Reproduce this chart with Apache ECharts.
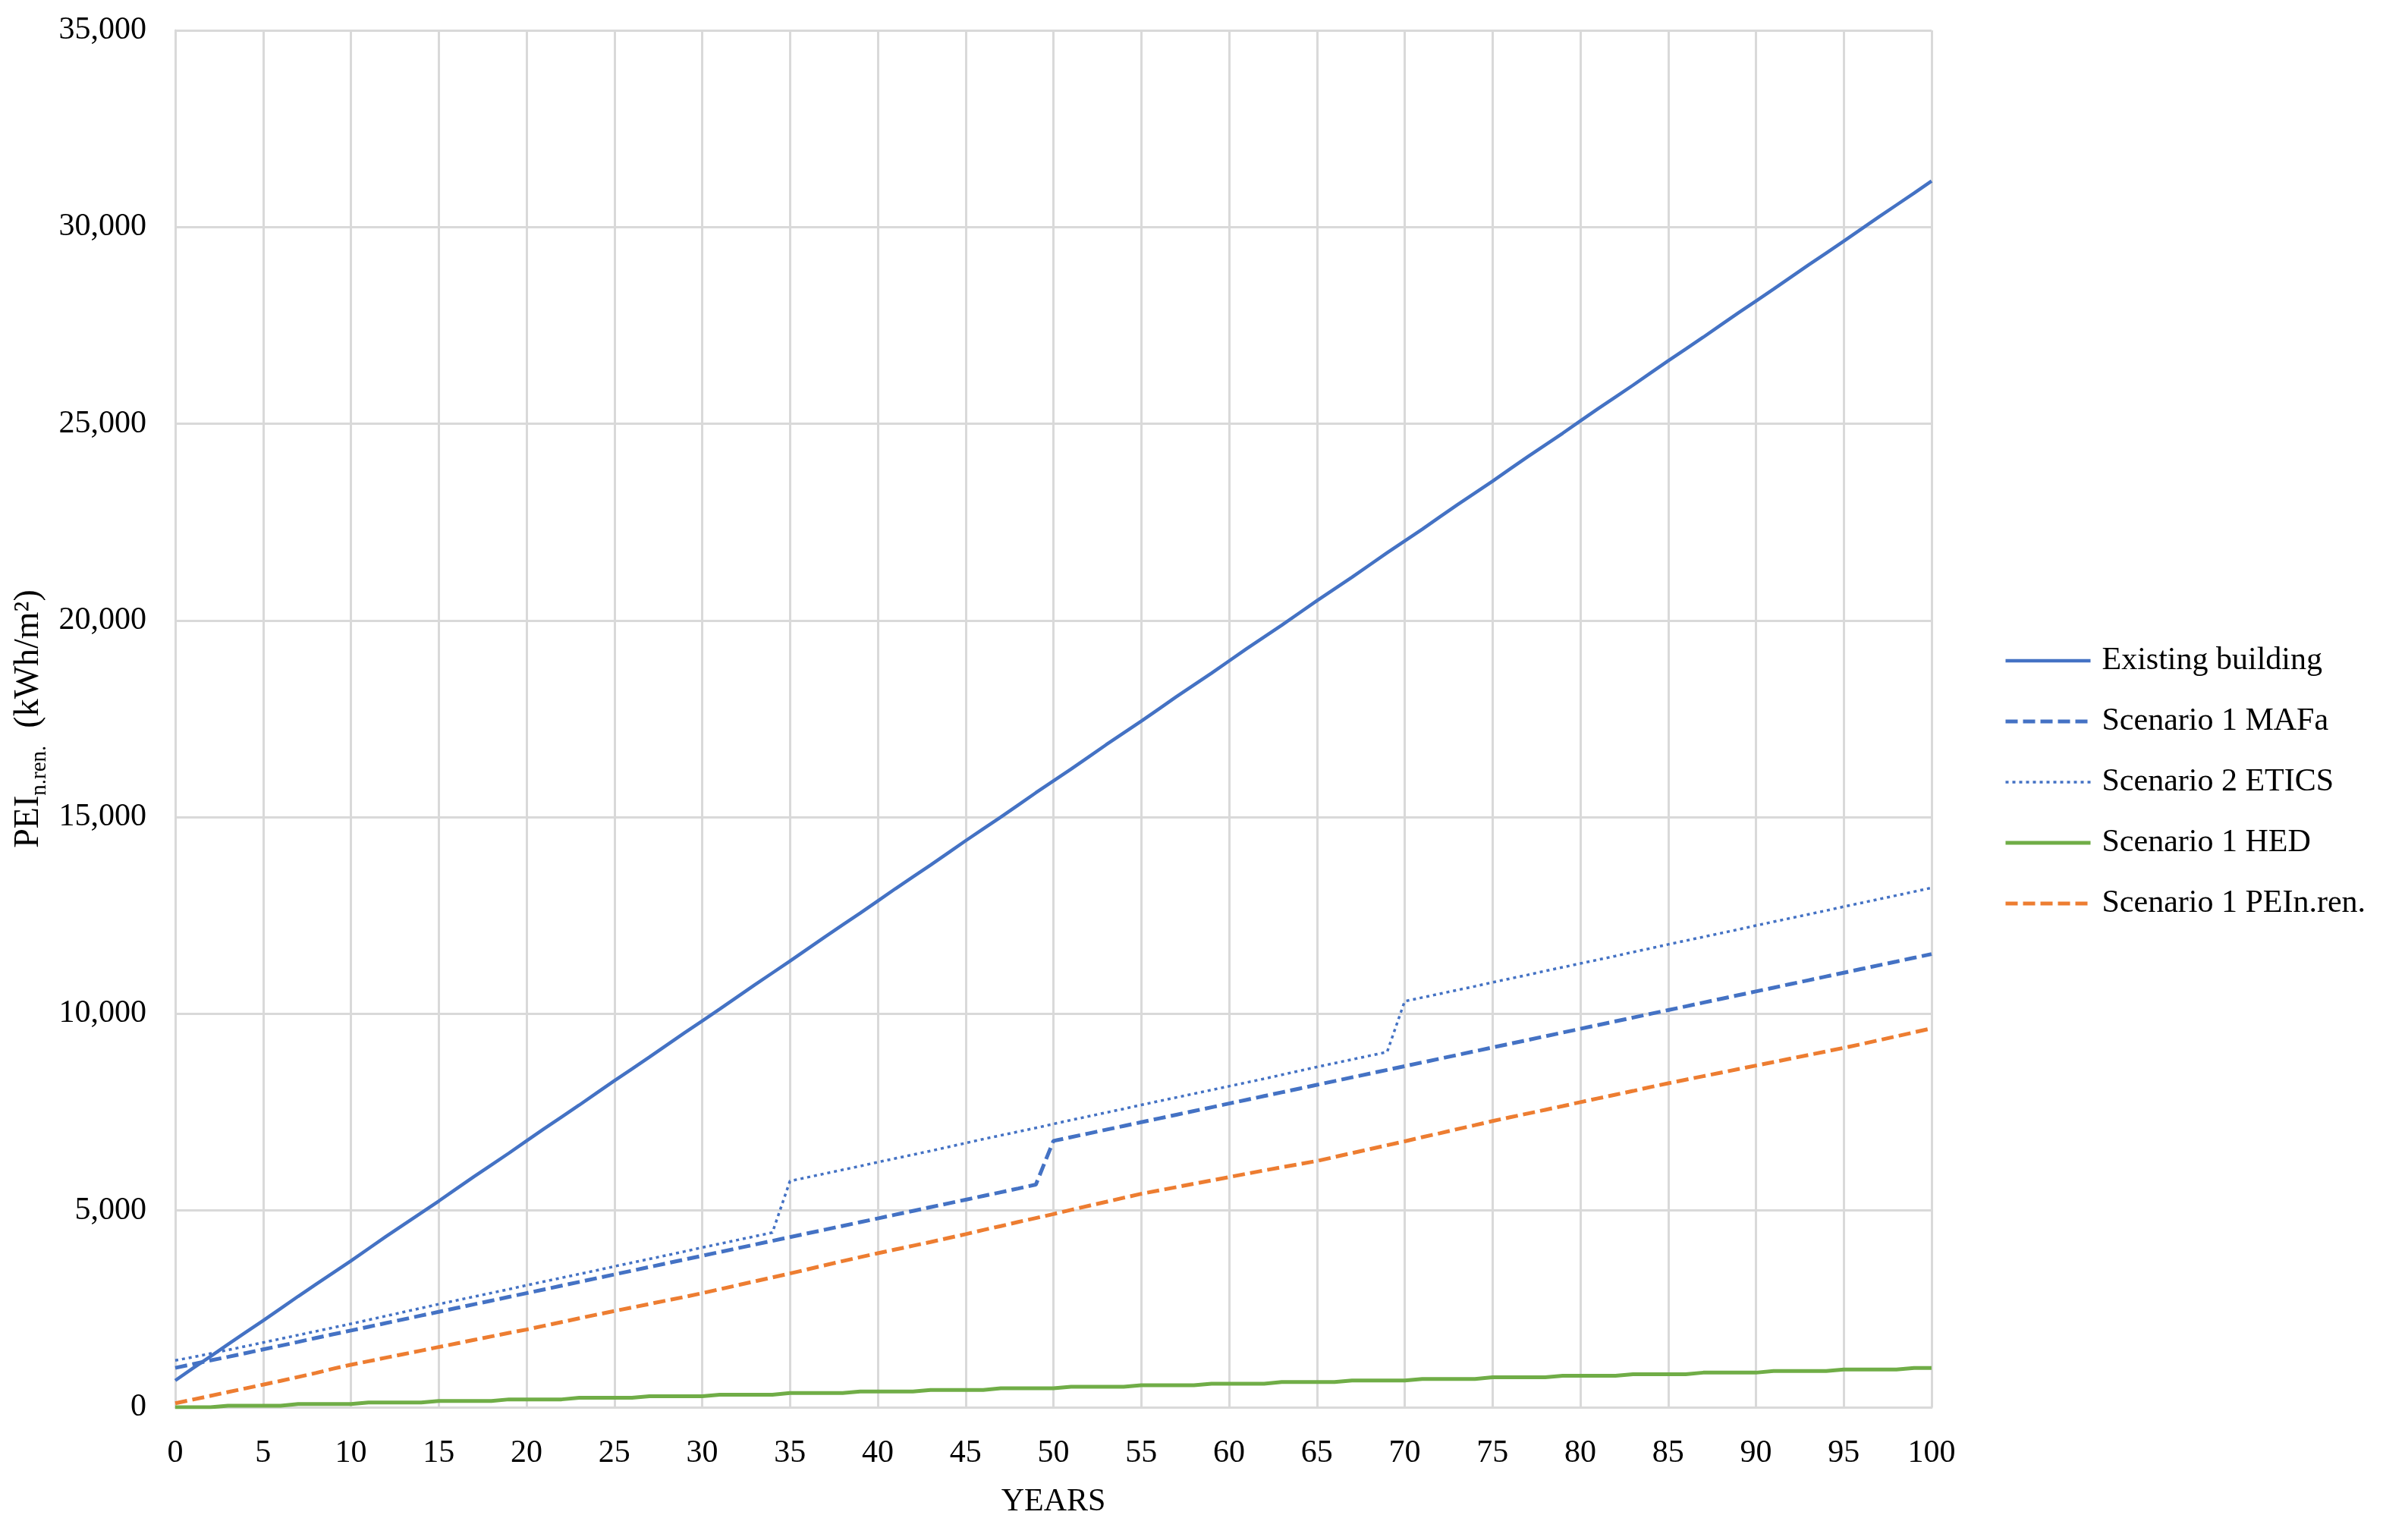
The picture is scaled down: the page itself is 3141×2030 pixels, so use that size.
<!DOCTYPE html>
<html>
<head>
<meta charset="utf-8">
<script src="https://cdn.jsdelivr.net/npm/echarts@6/dist/echarts.min.js"></script>
<style>
  html, body { margin: 0; padding: 0; background: #fff; }
  #chart { width: 3141px; height: 2030px; }
</style>
</head>
<body>
<div id="chart"></div>
<script>
// years 0..100 on the x axis
const years = Array.from({ length: 101 }, (_, i) => i);

const seriesNames = ['Existing building', 'Scenario 1 MAFa', 'Scenario 2 ETICS', 'Scenario 1 HED', 'Scenario 1 PEIn.ren.'];

const existing = [
  680, 990, 1290, 1600, 1900, 2200, 2510, 2820, 3120, 3420,
  3720, 4030, 4340, 4640, 4940, 5240, 5550, 5860, 6160, 6460,
  6770, 7080, 7380, 7680, 7990, 8300, 8600, 8900, 9210, 9520,
  9820, 10120, 10430, 10740, 11040, 11340, 11650, 11960, 12260, 12560,
  12870, 13180, 13480, 13780, 14090, 14400, 14700, 15000, 15310, 15620,
  15920, 16220, 16530, 16840, 17140, 17440, 17750, 18060, 18360, 18660,
  18970, 19280, 19580, 19880, 20190, 20500, 20800, 21100, 21410, 21720,
  22020, 22320, 22630, 22940, 23240, 23540, 23850, 24160, 24460, 24760,
  25070, 25380, 25680, 25980, 26290, 26600, 26900, 27200, 27510, 27820,
  28120, 28420, 28730, 29040, 29340, 29640, 29950, 30260, 30560, 30860,
  31170
];

const mafa = [
  1000, 1095, 1190, 1280, 1375, 1470, 1565, 1660, 1760, 1855,
  1950, 2045, 2140, 2235, 2330, 2425, 2520, 2615, 2710, 2805,
  2900, 2995, 3090, 3185, 3280, 3375, 3470, 3565, 3660, 3755,
  3850, 3945, 4040, 4135, 4230, 4325, 4420, 4515, 4610, 4705,
  4800, 4895, 4990, 5085, 5180, 5275, 5370, 5465, 5560, 5660,
  6770, 6865, 6960, 7055, 7150, 7245, 7340, 7435, 7530, 7625,
  7720, 7815, 7910, 8005, 8100, 8195, 8290, 8385, 8480, 8575,
  8670, 8765, 8860, 8955, 9050, 9145, 9240, 9335, 9430, 9525,
  9620, 9715, 9810, 9905, 10000, 10095, 10190, 10285, 10380, 10475,
  10570, 10665, 10760, 10855, 10950, 11045, 11140, 11235, 11330, 11425,
  11520
];

const etics = [
  1190, 1275, 1365, 1455, 1550, 1645, 1740, 1835, 1930, 2025,
  2120, 2220, 2320, 2420, 2520, 2620, 2715, 2810, 2905, 3000,
  3100, 3195, 3290, 3385, 3480, 3580, 3675, 3770, 3865, 3960,
  4060, 4155, 4250, 4345, 4440, 5750, 5845, 5940, 6035, 6130,
  6230, 6325, 6420, 6515, 6615, 6715, 6815, 6910, 7005, 7100,
  7200, 7300, 7395, 7490, 7585, 7685, 7780, 7875, 7970, 8065,
  8160, 8255, 8350, 8450, 8550, 8650, 8745, 8840, 8935, 9030,
  10320, 10415, 10510, 10605, 10700, 10800, 10895, 10990, 11090, 11185,
  11280, 11375, 11470, 11570, 11665, 11765, 11860, 11955, 12050, 12145,
  12245, 12340, 12435, 12530, 12625, 12725, 12820, 12915, 13010, 13105,
  13205
];

const hed = [
  0, 0, 0, 40, 40, 40, 40, 80, 80, 80,
  80, 120, 120, 120, 120, 160, 160, 160, 160, 200,
  200, 200, 200, 240, 240, 240, 240, 280, 280, 280,
  280, 320, 320, 320, 320, 360, 360, 360, 360, 400,
  400, 400, 400, 440, 440, 440, 440, 480, 480, 480,
  480, 520, 520, 520, 520, 560, 560, 560, 560, 600,
  600, 600, 600, 640, 640, 640, 640, 680, 680, 680,
  680, 720, 720, 720, 720, 760, 760, 760, 760, 800,
  800, 800, 800, 840, 840, 840, 840, 880, 880, 880,
  880, 920, 920, 920, 920, 960, 960, 960, 960, 1000,
  1000
];

const peiNren = [
  100, 195, 290, 385, 480, 575, 670, 770, 870, 980,
  1080, 1170, 1260, 1350, 1440, 1530, 1620, 1710, 1800, 1890,
  1975, 2070, 2165, 2260, 2355, 2445, 2535, 2625, 2715, 2805,
  2900, 3000, 3100, 3200, 3300, 3400, 3505, 3610, 3715, 3815,
  3915, 4010, 4105, 4200, 4300, 4400, 4505, 4605, 4710, 4810,
  4910, 5015, 5120, 5220, 5325, 5425, 5510, 5595, 5680, 5765,
  5850, 5935, 6020, 6100, 6180, 6260, 6360, 6460, 6560, 6660,
  6760, 6865, 6965, 7070, 7170, 7275, 7370, 7465, 7560, 7655,
  7755, 7850, 7945, 8040, 8140, 8235, 8325, 8415, 8505, 8595,
  8685, 8775, 8865, 8955, 9045, 9135, 9230, 9330, 9430, 9530,
  9630
];

const BLUE = '#4472C4';
const ORANGE = '#ED7D31';
const GREEN = '#70AD47';
const GRID = '#d9d9d9';
const FONT = '"Liberation Serif", "DejaVu Serif", serif';

const styles = [
  { color: BLUE, width: 4.5, type: 'solid' },
  { color: BLUE, width: 5, type: [16, 7] },
  { color: BLUE, width: 3.5, type: [4, 5] },
  { color: GREEN, width: 5, type: 'solid' },
  { color: ORANGE, width: 5, type: [16, 7] }
];
const values = [existing, mafa, etics, hed, peiNren];

const pairs = vals => years.map((y, i) => [y, vals[i]]);

const chart = echarts.init(document.getElementById('chart'));

chart.setOption({
  backgroundColor: '#ffffff',
  animation: false,
  textStyle: { fontFamily: FONT, color: '#000' },
  grid: { left: 231, right: 595, top: 40, bottom: 175 },
  legend: {
    orient: 'vertical',
    left: 2636,
    top: 845,
    itemWidth: 112,
    itemHeight: 40,
    itemGap: 38,
    textStyle: { fontFamily: FONT, fontSize: 42, color: '#000', padding: [0, 0, 0, 10] },
    data: seriesNames.map((name, i) => ({
      name: name,
      itemStyle: { opacity: 0 },
      lineStyle: { color: styles[i].color, width: styles[i].width, type: styles[i].type }
    }))
  },
  xAxis: {
    type: 'value',
    min: 0,
    max: 100,
    interval: 5,
    name: 'YEARS',
    nameLocation: 'middle',
    nameGap: 104,
    nameTextStyle: { fontFamily: FONT, fontSize: 42, color: '#000' },
    axisLine: { show: true, lineStyle: { color: GRID, width: 3 } },
    axisTick: { show: false },
    axisLabel: { fontFamily: FONT, fontSize: 42, color: '#000', margin: 40 },
    splitLine: { show: true, lineStyle: { color: GRID, width: 3 } }
  },
  yAxis: {
    type: 'value',
    min: 0,
    max: 35000,
    interval: 5000,
    name: '{b|PEI}{s|n.ren.}{b|  (kWh/m²)}',
    nameLocation: 'middle',
    nameGap: 148,
    nameRotate: 90,
    nameTextStyle: {
      fontFamily: FONT,
      color: '#000',
      rich: {
        b: { fontFamily: FONT, fontSize: 46, lineHeight: 58, verticalAlign: 'middle', color: '#000' },
        s: { fontFamily: FONT, fontSize: 29, lineHeight: 29, verticalAlign: 'bottom', color: '#000' }
      }
    },
    axisLine: { show: true, lineStyle: { color: GRID, width: 3 } },
    axisTick: { show: false },
    axisLabel: {
      fontFamily: FONT,
      fontSize: 42,
      color: '#000',
      margin: 38,
      formatter: v => v.toLocaleString('en-US')
    },
    splitLine: { show: true, lineStyle: { color: GRID, width: 3 } }
  },
  series: seriesNames.map((name, i) => ({
    name: name,
    type: 'line',
    data: pairs(values[i]),
    symbol: 'none',
    showSymbol: false,
    lineStyle: styles[i],
    itemStyle: { color: styles[i].color },
    emphasis: { disabled: true }
  }))
});
</script>
</body>
</html>
